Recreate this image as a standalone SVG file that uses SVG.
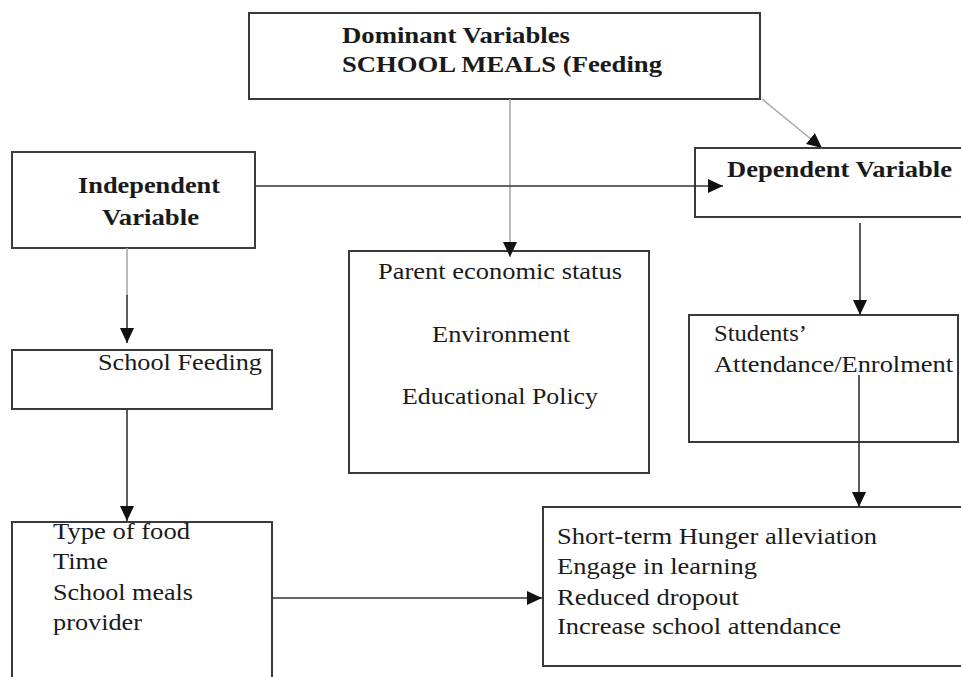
<svg xmlns="http://www.w3.org/2000/svg" width="961" height="677" viewBox="0 0 961 677">
<style>
.box{fill:#fff;stroke:#3a3a3a;stroke-width:2}
.t{font-size:22.5px;fill:#1a1a1a}
.b{font-size:24px;font-weight:bold;fill:#1a1a1a}
.c{fill:none;stroke:#333;stroke-width:1.6}
.g{fill:none;stroke:#a8a8a8;stroke-width:1.6}
</style>
<defs>
<marker id="ah" markerUnits="userSpaceOnUse" markerWidth="16" markerHeight="14" refX="15" refY="7" orient="auto">
<path d="M0,0 L15,7 L0,14 z" fill="#111"/>
</marker>
</defs>
<rect width="961" height="677" fill="#fff"/>
<g font-family="Liberation Serif, Times New Roman, Times, Tinos, Noto Serif, DejaVu Serif, serif">
<g id="dominant">
<rect class="box" x="249" y="13" width="511" height="86"/>
<text class="b" x="342" y="43" textLength="228" lengthAdjust="spacingAndGlyphs">Dominant Variables</text>
<text class="b" x="342" y="72" textLength="320" lengthAdjust="spacingAndGlyphs">SCHOOL MEALS (Feeding</text>
</g>
<g id="independent">
<rect class="box" x="12" y="152" width="243" height="96"/>
<text class="b" x="78" y="193" textLength="142" lengthAdjust="spacingAndGlyphs">Independent</text>
<text class="b" x="102" y="225" textLength="97" lengthAdjust="spacingAndGlyphs">Variable</text>
</g>
<g id="dependent">
<rect class="box" x="695" y="148" width="280" height="69"/>
<text class="b" x="727" y="177" textLength="225" lengthAdjust="spacingAndGlyphs">Dependent Variable</text>
</g>
<g id="moderating">
<rect class="box" x="349" y="251" width="300" height="222"/>
<text class="t" x="378" y="279" textLength="244" lengthAdjust="spacingAndGlyphs">Parent economic status</text>
<text class="t" x="432" y="342" textLength="138" lengthAdjust="spacingAndGlyphs">Environment</text>
<text class="t" x="402" y="404" textLength="196" lengthAdjust="spacingAndGlyphs">Educational Policy</text>
</g>
<g id="schoolfeeding">
<rect class="box" x="12" y="350" width="260" height="59"/>
<text class="t" x="98" y="370" textLength="164" lengthAdjust="spacingAndGlyphs">School Feeding</text>
</g>
<g id="students">
<rect class="box" x="689" y="315" width="269" height="127"/>
<text class="t" x="714" y="341" textLength="93" lengthAdjust="spacingAndGlyphs">Students’</text>
<text class="t" x="714" y="372" textLength="239" lengthAdjust="spacingAndGlyphs">Attendance/Enrolment</text>
</g>
<g id="indicators">
<path class="box" d="M12,690 L12,522 L272,522 L272,690"/>
<text class="t" x="53" y="539" textLength="137" lengthAdjust="spacingAndGlyphs">Type of food</text>
<text class="t" x="53" y="569" textLength="55" lengthAdjust="spacingAndGlyphs">Time</text>
<text class="t" x="53" y="600" textLength="140" lengthAdjust="spacingAndGlyphs">School meals</text>
<text class="t" x="53" y="630" textLength="89" lengthAdjust="spacingAndGlyphs">provider</text>
</g>
<g id="outcomes">
<rect class="box" x="543" y="507" width="430" height="159"/>
<text class="t" x="557" y="544" textLength="320" lengthAdjust="spacingAndGlyphs">Short-term Hunger alleviation</text>
<text class="t" x="557" y="574" textLength="200" lengthAdjust="spacingAndGlyphs">Engage in learning</text>
<text class="t" x="557" y="605" textLength="182" lengthAdjust="spacingAndGlyphs">Reduced dropout</text>
<text class="t" x="557" y="634" textLength="284" lengthAdjust="spacingAndGlyphs">Increase school attendance</text>
</g>
</g>
<g id="connectors">
<line class="g" x1="510" y1="99" x2="510" y2="257" marker-end="url(#ah)"/>
<line class="g" x1="762" y1="99" x2="822" y2="148" marker-end="url(#ah)"/>
<line class="c" x1="255" y1="186" x2="723" y2="186" marker-end="url(#ah)"/>
<line class="g" x1="127" y1="248" x2="127" y2="296"/>
<line class="c" x1="127" y1="295" x2="127" y2="343" marker-end="url(#ah)"/>
<line class="c" x1="127" y1="409" x2="127" y2="521" marker-end="url(#ah)"/>
<line class="c" x1="860" y1="223" x2="860" y2="315" marker-end="url(#ah)"/>
<line class="c" x1="859" y1="375" x2="859" y2="507" marker-end="url(#ah)"/>
<line class="c" x1="272" y1="598" x2="542" y2="598" marker-end="url(#ah)"/>
</g>
</svg>
